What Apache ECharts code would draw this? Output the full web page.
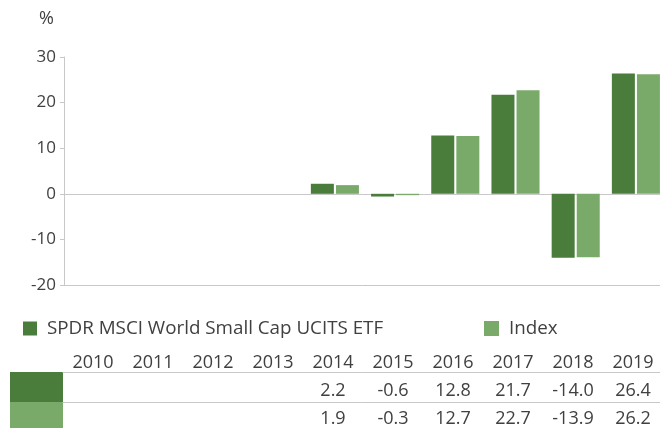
<!DOCTYPE html>
<html>
<head>
<meta charset="utf-8">
<script src="https://cdn.jsdelivr.net/npm/echarts@6/dist/echarts.min.js"></script>
<style>
html,body{margin:0;padding:0;background:#fff;}
#chart{width:660px;height:428px;}
</style>
</head>
<body>
<div id="chart"></div>
<script>
const years = ['2010','2011','2012','2013','2014','2015','2016','2017','2018','2019'];
const etfName = 'SPDR MSCI World Small Cap UCITS ETF';
const indexName = 'Index';
const etfValues = [null,null,null,null,2.2,-0.6,12.8,21.7,-14.0,26.4];
const indexValues = [null,null,null,null,1.9,-0.3,12.7,22.7,-13.9,26.2];
const yTicks = {min:-20, max:30, interval:10};

const DARK = '#4A7C3B';
const LIGHT = '#7AAA6A';
const TXT = '#404040';
const LINE = '#C8C8C8';
const FONT = '"Open Sans", sans-serif';

function fmt(v){ return (v === null || v === undefined) ? '' : v.toFixed(1); }

const chart = echarts.init(document.getElementById('chart'), null, {renderer:'canvas'});
chart.setOption({
  animation:false,
  backgroundColor:'#fff',
  textStyle:{fontFamily:FONT},
  title:{text:'%', left:39, top:10, textStyle:{fontSize:18, fontWeight:'normal', color:TXT, fontFamily:FONT}, padding:0},
  legend:[
    {data:[etfName], left:23, top:319, padding:0, itemWidth:14, itemHeight:14, icon:'rect',
     textStyle:{fontSize:18.8, color:TXT, fontFamily:FONT, padding:[0,0,0,5]}},
    {data:[indexName], left:484, top:319, padding:0, itemWidth:15, itemHeight:15, icon:'rect',
     textStyle:{fontSize:18.8, color:TXT, fontFamily:FONT, padding:[0,0,0,5]}}
  ],
  grid:[
    {left:64, top:57, width:602, height:228, outerBoundsMode:'none', containLabel:false},
    {left:63, top:372, width:600, height:30, outerBoundsMode:'none', containLabel:false},
    {left:63, top:402, width:600, height:26, outerBoundsMode:'none', containLabel:false}
  ],
  xAxis:[
    {type:'category', gridIndex:0, data:years, axisLine:{show:true, onZero:true, lineStyle:{color:LINE, width:1}},
     axisTick:{show:false}, axisLabel:{show:false}, splitLine:{show:false}},
    {type:'category', gridIndex:0, position:'bottom', data:years, axisLine:{show:true, onZero:false, lineStyle:{color:LINE, width:1}},
     axisTick:{show:false}, axisLabel:{show:false}, splitLine:{show:false}},
    {type:'category', gridIndex:1, position:'top', data:years, axisLine:{show:true, onZero:false, lineStyle:{color:LINE, width:1}},
     axisTick:{show:false}, axisLabel:{show:true, interval:0, margin:0, fontSize:18, color:TXT, fontFamily:FONT}},
    {type:'category', gridIndex:1, position:'bottom', data:years, axisLine:{show:true, onZero:false, lineStyle:{color:LINE, width:1}},
     axisTick:{show:false}, axisLabel:{show:true, inside:true, interval:0, margin:2, fontSize:18, color:TXT, fontFamily:FONT,
       formatter:(v,i)=>fmt(etfValues[i])}},
    {type:'category', gridIndex:2, position:'top', data:years, axisLine:{show:false, onZero:false},
     axisTick:{show:false}, axisLabel:{show:true, inside:true, interval:0, margin:8, fontSize:18, color:TXT, fontFamily:FONT,
       formatter:(v,i)=>fmt(indexValues[i])}}
  ],
  yAxis:[
    {type:'value', gridIndex:0, min:yTicks.min, max:yTicks.max, interval:yTicks.interval,
     axisLine:{show:true, lineStyle:{color:LINE, width:1}},
     axisTick:{show:true, length:4, lineStyle:{color:LINE}},
     axisLabel:{margin:8, fontSize:17, color:TXT, fontFamily:FONT},
     splitLine:{show:false}},
    {type:'value', gridIndex:1, show:false, min:0, max:1},
    {type:'value', gridIndex:2, show:false, min:0, max:1}
  ],
  series:[
    {name:etfName, type:'bar', xAxisIndex:0, yAxisIndex:0, data:etfValues, barWidth:23, barGap:'9%',
     itemStyle:{color:DARK}},
    {name:indexName, type:'bar', xAxisIndex:0, yAxisIndex:0, data:indexValues, barWidth:23, barGap:'9%',
     itemStyle:{color:LIGHT}}
  ],
  graphic:[
    {type:'rect', shape:{x:10, y:372, width:53, height:30}, style:{fill:DARK}, silent:true},
    {type:'rect', shape:{x:10, y:402, width:53, height:26}, style:{fill:LIGHT}, silent:true}
  ]
});
</script>
</body>
</html>
